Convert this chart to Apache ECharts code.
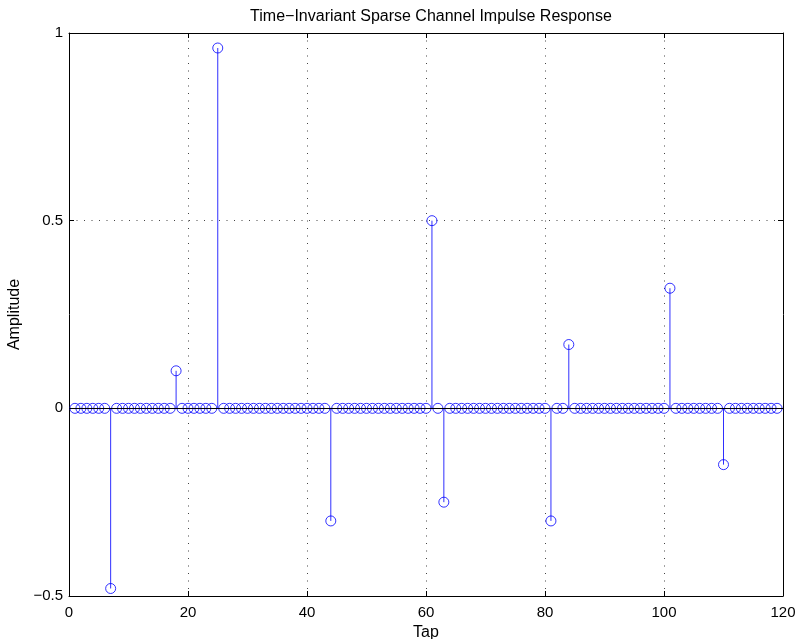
<!DOCTYPE html>
<html>
<head>
<meta charset="utf-8">
<script src="https://cdn.jsdelivr.net/npm/echarts@6/dist/echarts.min.js"></script>
<style>
html,body{margin:0;padding:0;background:#fff;}
#chart{width:798px;height:639px;}
</style>
</head>
<body>
<div id="chart"></div>
<script>
// Tap amplitudes for taps 1..119
const amplitude = [
  0, 0, 0, 0, 0, 0, -0.48, 0, 0, 0,
  0, 0, 0, 0, 0, 0, 0, 0.1, 0, 0,
  0, 0, 0, 0, 0.96, 0, 0, 0, 0, 0,
  0, 0, 0, 0, 0, 0, 0, 0, 0, 0,
  0, 0, 0, -0.3, 0, 0, 0, 0, 0, 0,
  0, 0, 0, 0, 0, 0, 0, 0, 0, 0,
  0.5, 0, -0.25, 0, 0, 0, 0, 0, 0, 0,
  0, 0, 0, 0, 0, 0, 0, 0, 0, 0,
  -0.3, 0, 0, 0.17, 0, 0, 0, 0, 0, 0,
  0, 0, 0, 0, 0, 0, 0, 0, 0, 0,
  0.32, 0, 0, 0, 0, 0, 0, 0, 0, -0.15,
  0, 0, 0, 0, 0, 0, 0, 0, 0
];
const firstTap = 1;
const taps = amplitude.map((_, i) => firstTap + i);
const xTicks = [0, 20, 40, 60, 80, 100, 120];
const yTicks = [-0.5, 0, 0.5, 1];
const titleText = 'Time\u2212Invariant Sparse Channel Impulse Response';
const xLabel = 'Tap';
const yLabel = 'Amplitude';

const points = taps.map((t, i) => [t, amplitude[i]]);
const FONT = '"Liberation Sans", Arial, Helvetica, sans-serif';
const fmt = v => String(v).replace('-', '\u2212');

const chart = echarts.init(document.getElementById('chart'), null, {renderer: 'canvas'});
const gridLine = {show: true, lineStyle: {color: '#444', width: 1, type: [1, 6.5]}};
const boxLine = {show: true, onZero: false, lineStyle: {color: '#000', width: 1}};
const tick = {show: true, inside: true, length: 5, lineStyle: {color: '#000', width: 1}};

chart.setOption({
  animation: false,
  backgroundColor: '#fff',
  title: {
    text: titleText,
    left: 426, top: 4, textAlign: 'center',
    textStyle: {fontFamily: FONT, fontSize: 16, fontWeight: 'normal', color: '#000'}
  },
  grid: {left: 69, right: 15, top: 33, bottom: 43, containLabel: false, outerBoundsMode: 'none'},
  xAxis: [
    {
      type: 'value', position: 'bottom', min: xTicks[0], max: xTicks[xTicks.length - 1], interval: 20,
      axisLine: boxLine, axisTick: tick, splitLine: gridLine,
      axisLabel: {color: '#000', fontFamily: FONT, fontSize: 15, margin: 9, formatter: fmt},
      name: xLabel, nameLocation: 'middle', nameGap: 26,
      nameTextStyle: {color: '#000', fontFamily: FONT, fontSize: 16}
    },
    {
      type: 'value', position: 'top', min: xTicks[0], max: xTicks[xTicks.length - 1], interval: 20,
      axisLine: boxLine, axisTick: tick, splitLine: {show: false}, axisLabel: {show: false}
    }
  ],
  yAxis: [
    {
      type: 'value', position: 'left', min: yTicks[0], max: yTicks[yTicks.length - 1], interval: 0.5,
      axisLine: boxLine, axisTick: tick, splitLine: gridLine,
      axisLabel: {color: '#000', fontFamily: FONT, fontSize: 15, margin: 6, formatter: fmt},
      name: yLabel, nameLocation: 'middle', nameGap: 41, nameRotate: 90,
      nameTextStyle: {color: '#000', fontFamily: FONT, fontSize: 16}
    },
    {
      type: 'value', position: 'right', min: yTicks[0], max: yTicks[yTicks.length - 1], interval: 0.5,
      axisLine: boxLine, axisTick: tick, splitLine: {show: false}, axisLabel: {show: false}
    }
  ],
  series: [
    {
      type: 'custom',
      xAxisIndex: 0, yAxisIndex: 0,
      data: points,
      z: 2,
      renderItem: function (params, api) {
        const x = api.value(0), y = api.value(1);
        const p0 = api.coord([x, 0]);
        const p1 = api.coord([x, y]);
        return {
          type: 'line',
          shape: {x1: p0[0], y1: p0[1], x2: p1[0], y2: p1[1]},
          style: {stroke: '#2f2fff', lineWidth: 1}
        };
      }
    },
    {
      type: 'scatter',
      xAxisIndex: 0, yAxisIndex: 0,
      data: points,
      symbol: 'circle',
      symbolSize: 10,
      z: 3,
      itemStyle: {color: 'rgba(0,0,0,0)', borderColor: '#0000ff', borderWidth: 1},
      emphasis: {disabled: true},
      markLine: {
        silent: true, symbol: 'none', animation: false,
        label: {show: false},
        lineStyle: {color: '#000', width: 1, type: 'solid'},
        data: [{yAxis: 0}]
      }
    }
  ]
});
</script>
</body>
</html>
